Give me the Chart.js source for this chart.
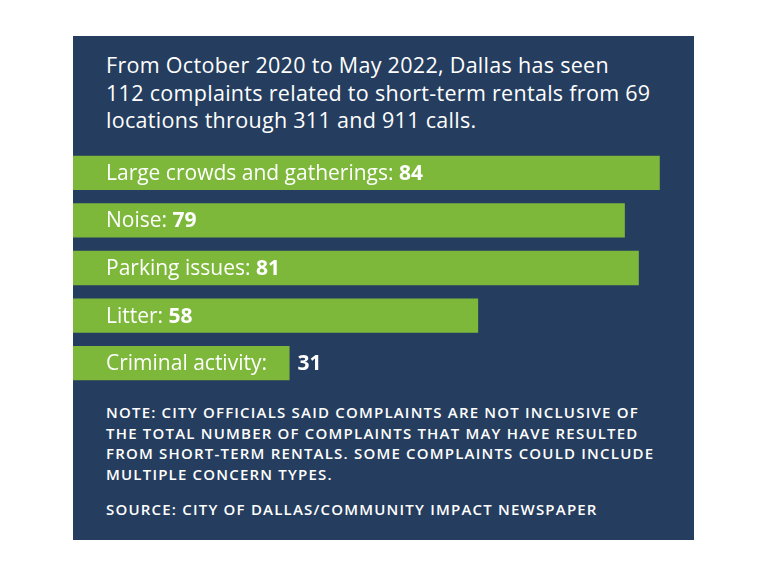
<!DOCTYPE html>
<html><head><meta charset="utf-8">
<script src="https://cdn.jsdelivr.net/npm/chart.js@4/dist/chart.umd.min.js"></script>
<style>
body{margin:0;background:#fff;width:767px;height:575px;position:relative;font-family:"Open Sans",sans-serif;overflow:hidden}
#panel{position:absolute;left:73px;top:36px;width:621px;height:504px;background:#253d5e}
#title{position:absolute;left:106px;top:51px;color:#fff;font-size:21.5px;line-height:27.5px;font-weight:500;letter-spacing:0.3px;white-space:nowrap}
#note{position:absolute;left:106px;top:402px;color:#fff;font-size:15px;line-height:20.5px;font-weight:600;letter-spacing:1.2px;white-space:nowrap}
#src{position:absolute;left:106px;top:499px;color:#fff;font-size:15px;font-weight:600;letter-spacing:1.2px;white-space:nowrap}
#wrap{position:absolute;left:73px;top:149px;width:621px;height:238px}
</style></head><body>
<div id="panel"></div>
<div id="title">From October 2020 to May 2022, Dallas has seen<br>112 complaints related to short-term rentals from 69<br>locations through 311 and 911 calls.</div>
<div id="wrap"><canvas id="c"></canvas></div>
<div id="note">NOTE: CITY OFFICIALS SAID COMPLAINTS ARE NOT INCLUSIVE OF<br>THE TOTAL NUMBER OF COMPLAINTS THAT MAY HAVE RESULTED<br>FROM SHORT-TERM RENTALS. SOME COMPLAINTS COULD INCLUDE<br>MULTIPLE CONCERN TYPES.</div>
<div id="src">SOURCE: CITY OF DALLAS/COMMUNITY IMPACT NEWSPAPER</div>
<script>
const categories = ["Large crowds and gatherings", "Noise", "Parking issues", "Litter", "Criminal activity"];
const complaints = [84, 79, 81, 58, 31];

// writes "Label: value" inside each bar, value outside if bar is too short
const barLabels = {
  id: "barLabels",
  afterDatasetsDraw(chart) {
    const c = chart.ctx;
    const meta = chart.getDatasetMeta(0);
    c.save();
    c.fillStyle = "#fff";
    c.textBaseline = "middle";
    meta.data.forEach((bar, i) => {
      const x = 33, y = bar.y + 1;
      c.font = "400 21px 'Open Sans'";
      const lab = categories[i] + ":";
      c.fillText(lab, x, y);
      let vx = x + c.measureText(lab + " ").width;
      c.font = "700 21px 'Open Sans'";
      if (vx + c.measureText(String(complaints[i])).width + 4 > bar.x) vx = bar.x + 8;
      c.fillText(complaints[i], vx, y);
    });
    c.restore();
  }
};

new Chart(document.getElementById("c"), {
  type: "bar",
  data: {
    labels: categories,
    datasets: [{ data: complaints, backgroundColor: "#7db83b", barPercentage: 0.72, categoryPercentage: 1 }]
  },
  options: {
    indexAxis: "y",
    responsive: true,
    maintainAspectRatio: false,
    animation: false,
    layout: { padding: 0 },
    plugins: { legend: { display: false }, tooltip: { enabled: false } },
    scales: {
      x: { display: false, min: 0, max: 88.9 },
      y: { display: false }
    }
  },
  plugins: [barLabels]
});
</script>
</body></html>
